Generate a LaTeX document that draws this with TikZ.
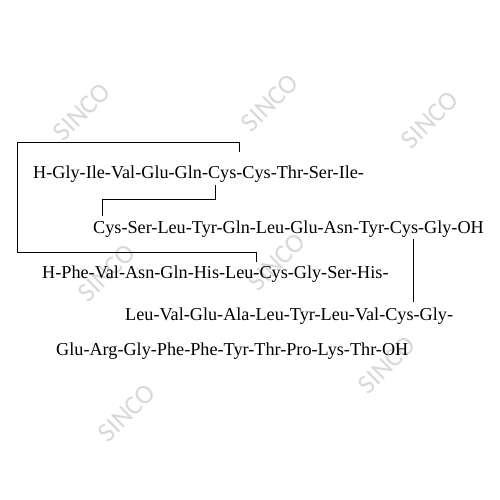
\documentclass[tikz,border=0pt]{standalone}
\usepackage{fontspec}
\setmainfont{Liberation Serif}
\newfontfamily\wmfont{Carlito}

\begin{document}
\begin{tikzpicture}[x=1pt,y=-1pt]
\tikzset{chain/.style={anchor=base west, inner sep=0pt, font=\fontsize{18.2}{20}\selectfont},
         wmark/.style={rotate=45, inner sep=0pt, text=black!15, font=\wmfont\fontsize{27}{29}\selectfont},
         ssbond/.style={line width=1pt}}
\useasboundingbox (0,0) rectangle (500,500);
\fill[white] (0,0) rectangle (500,500);
% watermarks
\node[wmark] (w1) at (82,112)  {SINCO};
\node[wmark] (w2) at (270,103) {SINCO};
\node[wmark] (w3) at (430,120) {SINCO};
\node[wmark] (w4) at (107,273) {SINCO};
\node[wmark] (w5) at (277,262) {SINCO};
\node[wmark] (w6) at (387,365) {SINCO};
\node[wmark] (w7) at (127,413) {SINCO};
% chains
\node[chain] (a1) at (33,178.5) {H-Gly-Ile-Val-Glu-Gln-Cys-Cys-Thr-Ser-Ile-};
\node[chain] (a2) at (93,233)   {Cys-Ser-Leu-Tyr-Gln-Leu-Glu-Asn-Tyr-Cys-Gly-OH};
\node[chain] (b1) at (42,278)   {H-Phe-Val-Asn-Gln-His-Leu-Cys-Gly-Ser-His-};
\node[chain] (b2) at (125,320)  {Leu-Val-Glu-Ala-Leu-Tyr-Leu-Val-Cys-Gly-};
\node[chain] (b3) at (56,355)   {Glu-Arg-Gly-Phe-Phe-Tyr-Thr-Pro-Lys-Thr-OH};
% cysteine ends
\coordinate (a1c6) at (239,152);
\coordinate (a1c7) at (215,185);
\coordinate (a2c1) at (102,216);
\coordinate (a2c11) at (413,239);
\coordinate (b1c7) at (256,262);
\coordinate (b2c19) at (413,302);
% disulfide bridges
\draw[ssbond] (a1c6) -- (239,142) -- (17,142) -- (17,252) -- (256,252) -- (b1c7);
\draw[ssbond] (a1c7) -- (215,199) -- (102,199) -- (a2c1);
\draw[ssbond] (a2c11) -- (b2c19);
\end{tikzpicture}
\end{document}
